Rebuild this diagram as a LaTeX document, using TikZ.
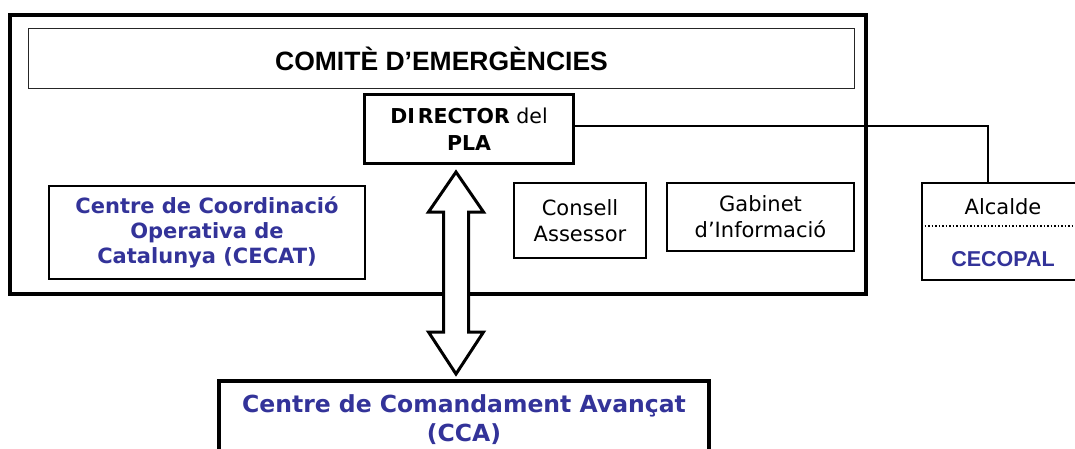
\documentclass[tikz,border=0pt]{standalone}
\usepackage{fontspec}
\setmainfont{DejaVu Sans}
\newfontfamily\dv{DejaVu Sans}
\newfontfamily\ls{Liberation Sans}
\usetikzlibrary{calc}
\definecolor{cblue}{RGB}{51,51,153}
\begin{document}
\begin{tikzpicture}[x=1pt,y=-1pt,
  box/.style={draw,rectangle,inner sep=0pt,align=center,line width=2pt},
  vtext/.style={font=\dv\fontsize{21}{26}\selectfont},
  vbold/.style={font=\dv\bfseries\fontsize{21}{25}\selectfont},
  bigarrow/.style={draw,line width=3pt,fill=white}]
\useasboundingbox (0,0) rectangle (1075,448);
% outer frame
\node[box,line width=4pt,minimum width=856pt,minimum height=279pt] (outer) at (438,154.5) {};
% comite
\node[box,line width=1.5pt,draw=black!85,minimum width=826pt,minimum height=60pt,
      font=\ls\bfseries\fontsize{26.5}{30}\selectfont] (com) at (441.5,58.5) {COMITÈ D’EMERGÈNCIES};
% director
\node[box,line width=3pt,minimum width=209pt,minimum height=69pt,
      font=\dv\fontsize{20.5}{27}\selectfont] (dir) at (469,129)
      {\textbf{DI\kern3pt RECTOR} del\\\textbf{PLA}};
% CECAT
\node[box,minimum width=316pt,minimum height=93pt,vbold,text=cblue] (cecat) at (207,232)
      {Centre de Coordinació\\Operativa de\\Catalunya (CECAT)};
% Consell
\node[box,minimum width=132pt,minimum height=75pt,vtext] (cons) at (580,220.5)
      {Consell\\Assessor};
% Gabinet
\node[box,minimum width=187pt,minimum height=68pt,vtext] (gab) at (760.5,217)
      {Gabinet\\d’Informació};
% Alcalde / CECOPAL
\node[box,minimum width=168pt,minimum height=97pt] (alc) at (1006,231.5) {};
\node[inner sep=0pt,font=\dv\fontsize{21}{26}\selectfont] (alct) at (1003,207) {Alcalde};
\node[inner sep=0pt,font=\ls\bfseries\fontsize{21.5}{26}\selectfont,text=cblue] (cecopal) at (1003,259) {CECOPAL};
\draw[dotted,line width=1.5pt] (alc.west |- 0,226) -- (alc.east |- 0,226);
% CCA
\node[box,line width=4pt,minimum width=490pt,minimum height=78pt,
      font=\dv\bfseries\fontsize{23.5}{29}\selectfont,text=cblue] (cca) at (464,420)
      {Centre de Comandament Avançat\\(CCA)};
% connector director -> alcalde
\draw[line width=1.5pt] ($(dir.east)+(0,-3)$) -| ($(alc.north)+(-18,0)$);
% double arrow
\path (dir.south) ++(-13,7) coordinate (atop);
\path (cca.north) ++(-8,-5) coordinate (abot);
\draw[bigarrow] (atop) -- ++(27.5,40) -- ++(-15,0) -- ($(abot)+(12.5,-42)$) -- ++(15,0)
  -- (abot) -- ++(-27.5,-42) -- ++(15,0) -- ($(atop)+(-12.5,40)$) -- ++(-15,0) -- cycle;
\end{tikzpicture}
\end{document}
